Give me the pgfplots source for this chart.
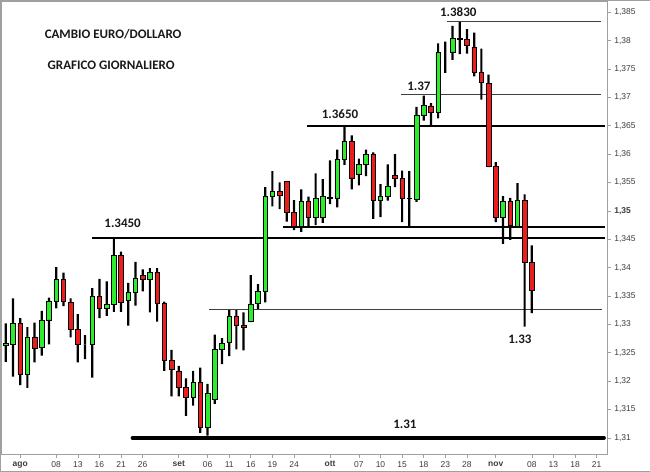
\documentclass[border=0pt]{standalone}
\usepackage{pgfplots}
\pgfplotsset{compat=1.18}
\usepackage{pgfplotstable}
\usepackage{fontspec}
\setmainfont{Liberation Sans}
\newfontfamily\carlito{Carlito}
\definecolor{upgreen}{RGB}{45,235,45}
\definecolor{downred}{RGB}{235,30,30}
\definecolor{framegray}{RGB}{160,160,160}
\definecolor{ticktext}{RGB}{60,60,60}

% daily EUR/USD, one row per trading day (i = 0 is 1 Aug 2013)
\pgfplotstableread{
i o h l c
-2 1.3263 1.3302 1.3234 1.3266
-1 1.3265 1.3346 1.3208 1.3302
0 1.3302 1.3311 1.3193 1.3212
1 1.3212 1.3295 1.3188 1.3278
2 1.3278 1.3303 1.3233 1.3257
3 1.3259 1.3324 1.3245 1.3307
4 1.3308 1.3347 1.3265 1.3340
5 1.3340 1.3401 1.3328 1.3379
6 1.3379 1.3391 1.3332 1.3340
7 1.3339 1.3346 1.3277 1.3291
8 1.3291 1.3318 1.3233 1.3265
9 1.3265 1.3281 1.3239 1.3265
10 1.3265 1.3364 1.3206 1.3350
11 1.3350 1.3380 1.3311 1.3328
12 1.3328 1.3376 1.3315 1.3335
13 1.3335 1.3451 1.3322 1.3422
14 1.3422 1.3428 1.3322 1.3339
15 1.3342 1.3373 1.3298 1.3357
16 1.3357 1.3410 1.3333 1.3382
17 1.3386 1.3397 1.3358 1.3379
18 1.3379 1.3399 1.3321 1.3392
19 1.3392 1.3399 1.3305 1.3337
20 1.3337 1.3340 1.3218 1.3237
21 1.3237 1.3255 1.3173 1.3221
22 1.3218 1.3227 1.3173 1.3189
23 1.3189 1.3205 1.3139 1.3172
24 1.3172 1.3218 1.3157 1.3198
25 1.3198 1.3224 1.3109 1.3119
26 1.3119 1.3195 1.3104 1.3179
27 1.3168 1.3282 1.3160 1.3256
28 1.3256 1.3276 1.3230 1.3267
29 1.3268 1.3325 1.3244 1.3315
30 1.3315 1.3325 1.3256 1.3298
31 1.3298 1.3321 1.3254 1.3295
32 1.3305 1.3387 1.3304 1.3336
33 1.3337 1.3371 1.3327 1.3358
34 1.3358 1.3542 1.3339 1.3525
35 1.3525 1.3570 1.3508 1.3534
36 1.3535 1.3550 1.3503 1.3527
37 1.3552 1.3552 1.3481 1.3498
38 1.3497 1.3519 1.3466 1.3473
39 1.3473 1.3538 1.3463 1.3517
40 1.3517 1.3525 1.3472 1.3489
41 1.3489 1.3566 1.3475 1.3522
42 1.3489 1.3556 1.3479 1.3525
43 1.3524 1.3589 1.3512 1.3523
44 1.3523 1.3608 1.3506 1.3591
45 1.3591 1.3650 1.3581 1.3623
46 1.3623 1.3633 1.3538 1.3558
47 1.3565 1.3592 1.3545 1.3582
48 1.3582 1.3608 1.3561 1.3600
49 1.3600 1.3603 1.3486 1.3519
50 1.3519 1.3547 1.3489 1.3526
51 1.3526 1.3582 1.3518 1.3544
52 1.3563 1.3600 1.3542 1.3557
53 1.3557 1.3571 1.3480 1.3522
54 1.3522 1.3570 1.3472 1.3523
55 1.3520 1.3683 1.3516 1.3669
56 1.3669 1.3703 1.3659 1.3686
57 1.3685 1.3690 1.3650 1.3674
58 1.3674 1.3795 1.3663 1.3779
59 1.3780 1.3798 1.3743 1.3780
60 1.3780 1.3826 1.3766 1.3804
61 1.3804 1.3833 1.3776 1.3803
62 1.3802 1.3820 1.3777 1.3791
63 1.3789 1.3814 1.3737 1.3744
64 1.3744 1.3786 1.3696 1.3726
65 1.3725 1.3740 1.3577 1.3579
66 1.3579 1.3586 1.3480 1.3489
67 1.3489 1.3526 1.3442 1.3516
68 1.3517 1.3523 1.3449 1.3474
69 1.3473 1.3549 1.3470 1.3519
70 1.3518 1.3529 1.3296 1.3409
71 1.3409 1.3439 1.3320 1.3360
}\candles

\begin{document}
\begin{tikzpicture}
\draw[framegray] (0,0) rectangle (650pt,471pt);
\begin{axis}[
  at={(1pt,17pt)}, anchor=south west,
  scale only axis, width=606pt, height=453pt,
  xmin=-2.635, xmax=81.41,
  ymin=1.30718, ymax=1.38694,
  ybar stacked,
  axis line style={framegray},
  tick align=outside,
  major tick length=4pt,
  tick style={framegray, line width=0.6pt},
  xtick pos=bottom, ytick pos=right,
  yticklabel pos=right,
  ytick={1.31,1.315,1.32,1.325,1.33,1.335,1.34,1.345,1.35,1.355,1.36,1.365,1.37,1.375,1.38,1.385},
  yticklabels={{1,31},{1,315},{1,32},{1,325},{1,33},{1,335},{1,34},{1,345},{\textbf{1,35}},{1,355},{1,36},{1,365},{1,37},{1,375},{1,38},{1,385}},
  xtick={0,5,8,11,14,17,22,26,29,32,35,38,43,47,50,53,56,59,62,66,71,74,77,80},
  xticklabels={\textbf{ago},08,13,16,21,26,\textbf{set},06,11,16,19,24,\textbf{ott},07,10,15,18,23,28,\textbf{nov},08,13,18,21},
  ticklabel style={font=\fontsize{8.5}{10}\selectfont, text=ticktext},
]
% base (invisible), lower wick, body up, body down, upper wick
\addplot[draw=none, fill=none, bar width=4.6pt, bar shift=0pt] table[x=i, y=l] {\candles};
\addplot[draw=none, fill=black, bar width=2.2pt, bar shift=0pt] table[x=i, y expr={min(\thisrow{o},\thisrow{c})-\thisrow{l}}] {\candles};
\addplot[draw=black, line width=0.6pt, fill=upgreen, bar width=4.6pt, bar shift=0pt] table[x=i, y expr={max(\thisrow{c}-\thisrow{o},0)}] {\candles};
\addplot[draw=black, line width=0.6pt, fill=downred, bar width=4.6pt, bar shift=0pt] table[x=i, y expr={max(\thisrow{o}-\thisrow{c},0)}] {\candles};
\addplot[draw=none, fill=black, bar width=2.2pt, bar shift=0pt] table[x=i, y expr={\thisrow{h}-max(\thisrow{o},\thisrow{c})}] {\candles};

% support / resistance lines
\draw[black!75, line width=0.8pt] (axis cs:59.2,1.3833) -- (axis cs:80.6,1.3833);
\draw[black!75, line width=0.8pt] (axis cs:52.8,1.3705) -- (axis cs:80.6,1.3705);
\draw[black, line width=2.2pt] (axis cs:39.8,1.3650) -- (axis cs:81.1,1.3650);
\draw[black, line width=2.2pt] (axis cs:36.5,1.3472) -- (axis cs:81.1,1.3472);
\draw[black, line width=2.2pt] (axis cs:10.0,1.3452) -- (axis cs:81.1,1.3452);
\draw[black!75, line width=0.8pt] (axis cs:26.2,1.3326) -- (axis cs:80.7,1.3326);
\draw[black, line width=4pt, line cap=round] (axis cs:15.6,1.3100) -- (axis cs:81.0,1.3100);
\end{axis}

\begin{scope}[every node/.style={font=\carlito\bfseries\fontsize{13}{15}\selectfont, text=black!90, inner sep=0pt}]
\node at (113pt,437pt) {CAMBIO EURO/DOLLARO};
\node at (111pt,406pt) {GRAFICO GIORNALIERO};
\node at (122.5pt,248pt) {1.3450};
\node at (340pt,357pt) {1.3650};
\node at (419pt,385pt) {1.37};
\node at (458.3pt,459.3pt) {1.3830};
\node at (520pt,131.7pt) {1.33};
\node at (405pt,47pt) {1.31};
\end{scope}
\end{tikzpicture}
\end{document}
